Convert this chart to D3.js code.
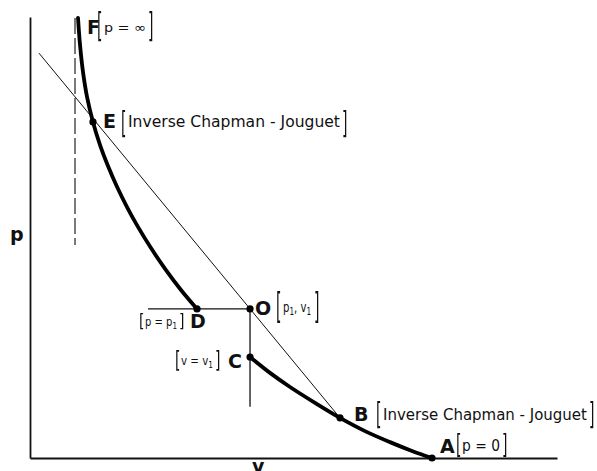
<!DOCTYPE html>
<html>
<head>
<meta charset="utf-8">
<script src="https://cdn.jsdelivr.net/npm/d3@7/dist/d3.min.js"></script>
<style>
  html, body { margin: 0; padding: 0; background: #fff; }
  svg { display: block; }
  text { font-family: "DejaVu Sans", sans-serif; fill: #111; }
</style>
</head>
<body>
<svg id="chart" width="597" height="471"></svg>
<script>
// Hugoniot curve in the p–v plane (arbitrary units)
const upperV = [0.911, 0.949, 1.006, 1.082, 1.195, 1.328, 1.480, 1.651, 1.841, 2.049, 2.296, 2.581, 2.865, 3.169];
const upperP = [9.98, 9.37, 8.75, 8.19, 7.62, 7.10, 6.62, 6.15, 5.69, 5.24, 4.76, 4.26, 3.81, 3.38];
const lowerV = [4.175, 4.554, 4.934, 5.408, 5.882, 6.357, 6.831, 7.249, 7.628];
const lowerP = [2.29, 1.93, 1.61, 1.25, 0.91, 0.61, 0.36, 0.16, 0.00];

// Named states on the curve
const pointNames = ["E", "D", "O", "C", "B", "A"];
const pointV = [1.195, 3.169, 4.175, 4.175, 5.882, 7.628];
const pointP = [7.62, 3.38, 3.38, 2.29, 0.91, 0.00];

// Rayleigh line through O, and the constant-p / constant-v lines from O
const rayleighV = [0.171, 5.882];
const rayleighP = [9.18, 0.91];
const constPV = [2.239, 4.175];
const constPP = [3.38, 3.38];
const constVV = [4.175, 4.175];
const constVP = [3.38, 1.16];

// Asymptote of the upper branch (p → ∞)
const asymV = [0.854, 0.854];
const asymP = [9.98, 4.83];

// Axis extents
const vDomain = [0, 10];
const pDomain = [0, 10];

const svg = d3.select("#chart");
const x = d3.scaleLinear().domain(vDomain).range([30, 557]);
const y = d3.scaleLinear().domain(pDomain).range([458, 17]);

// Greyscale filter keeps stretched glyph edges neutral
svg.append("defs").append("filter").attr("id", "mono")
  .append("feColorMatrix").attr("type", "saturate").attr("values", 0);

const zip = (a, b) => a.map((d, i) => [d, b[i]]);
const line = d3.line().x(d => x(d[0])).y(d => y(d[1]));
const smooth = d3.line().x(d => x(d[0])).y(d => y(d[1])).curve(d3.curveCatmullRom.alpha(0.5));

// Axes: bare lines without ticks
svg.append("g").attr("transform", `translate(0,${y(0)})`)
  .call(d3.axisBottom(x).tickValues([]).tickSizeOuter(0))
  .select(".domain").attr("stroke", "#111").attr("stroke-width", 1.8);
svg.append("g").attr("transform", `translate(${x(0)},0)`)
  .call(d3.axisLeft(y).tickValues([]).tickSizeOuter(0))
  .select(".domain").attr("stroke", "#111").attr("stroke-width", 1.8);

// Asymptote
svg.append("path").attr("d", line(zip(asymV, asymP)))
  .attr("fill", "none").attr("stroke", "#222").attr("stroke-width", 1.2)
  .attr("stroke-dasharray", "16,4");

// Thin construction lines
[[rayleighV, rayleighP, 1.0], [constPV, constPP, 1.3], [constVV, constVP, 1.3]].forEach(([vs, ps, w]) => {
  svg.append("path").attr("d", line(zip(vs, ps)))
    .attr("fill", "none").attr("stroke", "#111").attr("stroke-width", w);
});

// Hugoniot branches
[[upperV, upperP], [lowerV, lowerP]].forEach(([vs, ps]) => {
  svg.append("path").attr("d", smooth(zip(vs, ps)))
    .attr("fill", "none").attr("stroke", "#000").attr("stroke-width", 3.8)
    .attr("stroke-linecap", "round");
});

// State points
svg.selectAll("circle.state").data(pointNames.map((n, i) => ({ n, v: pointV[i], p: pointP[i] })))
  .join("circle").attr("class", "state")
  .attr("cx", d => x(d.v)).attr("cy", d => y(d.p)).attr("r", 3.6).attr("fill", "#000");

const labels = svg.append("g").attr("class", "labels");

// Tall square brackets drawn as vertically stretched text glyphs
function bracket(ch, bx, top, bottom) {
  const fs = 14;
  const s = (bottom - top) / (0.892 * fs);
  const base = bottom - 0.132 * fs * s;
  labels.append("text").text(ch)
    .attr("transform", `translate(${bx},${base}) scale(1,${s})`)
    .attr("font-size", fs)
    .attr("filter", "url(#mono)");
}
function letter(t, lx, base) {
  labels.append("text").text(t).attr("x", lx).attr("y", base)
    .attr("font-size", 19).attr("font-weight", "bold");
}
// Bracketed note; pieces are [string, isSubscript]. Returns the right edge.
function note(pieces, tx, base, fs, len) {
  const t = labels.append("text").attr("x", tx).attr("y", base).attr("font-size", fs);
  let shifted = false;
  pieces.forEach(([s, sub]) => {
    const ts = t.append("tspan").text(s);
    if (sub && !shifted) { ts.attr("dy", 3).attr("font-size", fs * 0.72); shifted = true; }
    else if (!sub && shifted) { ts.attr("dy", -3); shifted = false; }
  });
  if (len) t.attr("textLength", len).attr("lengthAdjust", "spacingAndGlyphs");
  return tx + (len || t.node().getComputedTextLength());
}

const P = i => [x(pointV[i]), y(pointP[i])];

// F  [p = ∞]  at the top of the upper branch
{
  const fx = x(upperV[0]), fy = y(upperP[0]);
  letter("F", fx + 9, fy + 16);
  bracket("[", fx + 19, fy - 6, fy + 24);
  const end = note([["p = ∞", false]], fx + 26, fy + 14, 13, 42);
  bracket("]", end + 2, fy - 6, fy + 24);
}
// E  [Inverse Chapman - Jouguet]
{
  const [px, py] = P(0);
  letter("E", px + 10, py + 6);
  bracket("[", px + 28, py - 12, py + 15);
  const end = note([["Inverse  Chapman - Jouguet", false]], px + 35, py + 5, 15, 212);
  bracket("]", end + 2, py - 12, py + 15);
}
// D  [p = p1]
{
  const [px, py] = P(1);
  letter("D", px - 7, py + 19);
  bracket("[", px - 58, py + 4, py + 20);
  const end = note([["p = p", false], ["1", true]], px - 52, py + 17, 13, 32);
  bracket("]", end + 2, py + 4, py + 20);
}
// O  [p1, v1]
{
  const [px, py] = P(2);
  letter("O", px + 5, py + 6);
  bracket("[", px + 26, py - 17, py + 14);
  const end = note([["p", false], ["1", true], [", v", false], ["1", true]], px + 33, py + 3, 14, 28);
  bracket("]", end + 3, py - 17, py + 14);
}
// C  [v = v1]
{
  const [px, py] = P(3);
  letter("C", px - 22, py + 11);
  bracket("[", px - 75, py - 7, py + 14);
  const end = note([["v = v", false], ["1", true]], px - 69, py + 8, 13, 32);
  bracket("]", end + 2, py - 7, py + 14);
}
// B  [Inverse Chapman - Jouguet]
{
  const [px, py] = P(4);
  letter("B", px + 14, py + 3);
  bracket("[", px + 36, py - 17, py + 10);
  const end = note([["Inverse  Chapman - Jouguet", false]], px + 43, py + 2, 15, 204);
  bracket("]", end + 2, py - 17, py + 10);
}
// A  [p = 0]
{
  const [px, py] = P(5);
  letter("A", px + 8, py - 5);
  bracket("[", px + 24, py - 25, py - 2);
  const end = note([["p = 0", false]], px + 30, py - 7, 15, 38);
  bracket("]", end + 2, py - 25, py - 2);
}

// Axis titles
labels.append("text").text("p").attr("x", 10).attr("y", 241)
  .attr("font-size", 19).attr("font-weight", "bold");
labels.append("text").text("v").attr("x", 252).attr("y", 473)
  .attr("font-size", 19).attr("font-weight", "bold");
</script>
</body>
</html>
